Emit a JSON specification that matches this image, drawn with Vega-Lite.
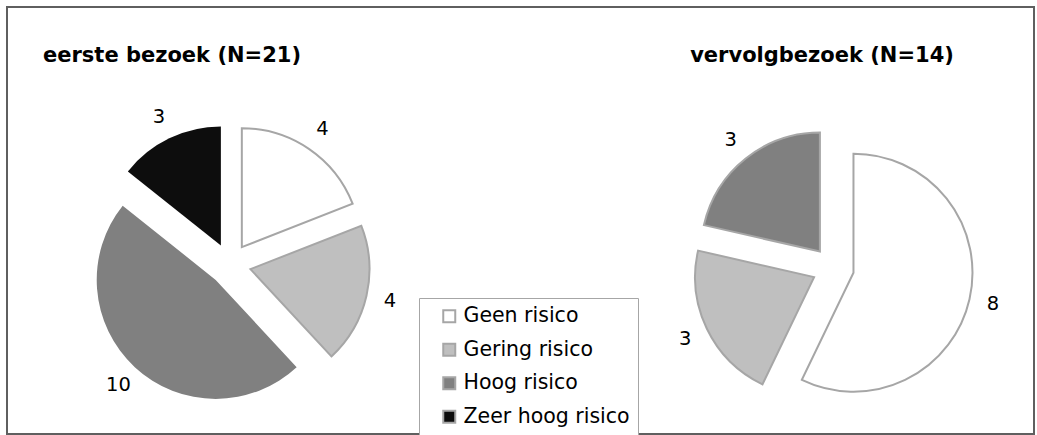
{
  "$schema": "https://vega.github.io/schema/vega-lite/v6.json",
  "width": 1027,
  "height": 427,
  "autosize": {"type": "none"},
  "padding": {"left": 7, "top": 7, "right": 3, "bottom": 1},
  "background": "#ffffff",
  "config": {
    "view": {"stroke": "#5f5f5f", "strokeWidth": 2},
    "font": "DejaVu Sans",
    "text": {"font": "DejaVu Sans"}
  },
  "layer": [
    {
      "data": {
        "values": [
          {"bezoek": "eerste", "risico": "Geen risico", "aantal": 4},
          {"bezoek": "eerste", "risico": "Gering risico", "aantal": 4},
          {"bezoek": "eerste", "risico": "Hoog risico", "aantal": 10},
          {"bezoek": "eerste", "risico": "Zeer hoog risico", "aantal": 3},
          {"bezoek": "vervolg", "risico": "Geen risico", "aantal": 8},
          {"bezoek": "vervolg", "risico": "Gering risico", "aantal": 3},
          {"bezoek": "vervolg", "risico": "Hoog risico", "aantal": 3},
          {"bezoek": "vervolg", "risico": "Zeer hoog risico", "aantal": 0}
        ]
      },
      "transform": [
        {"joinaggregate": [{"op": "sum", "field": "aantal", "as": "totaal"}], "groupby": ["bezoek"]},
        {"window": [{"op": "sum", "field": "aantal", "as": "cum"}], "groupby": ["bezoek"], "sort": [{"field": "risico", "order": "ascending"}], "frame": [null, 0]},
        {"filter": "datum.aantal > 0"},
        {"calculate": "(datum.cum - datum.aantal) / datum.totaal", "as": "begin"},
        {"calculate": "datum.cum / datum.totaal", "as": "eind"},
        {"calculate": "(datum.begin + datum.eind) / 2", "as": "midden"},
        {"calculate": "sin(2 * PI * datum.midden)", "as": "dx"},
        {"calculate": "-cos(2 * PI * datum.midden)", "as": "dy"}
      ],
      "layer": [
        {
          "mark": {"type": "arc", "radius": 119, "strokeWidth": 2, "strokeJoin": "miter"},
          "encoding": {
            "x": {"field": "bezoek", "type": "nominal", "scale": {"type": "point", "range": [223, 826], "padding": 0}, "axis": null},
            "y": {"field": "bezoek", "type": "nominal", "scale": {"type": "point", "range": [257.5, 261], "padding": 0}, "axis": null},
            "xOffset": {"field": "dx", "type": "quantitative", "scale": {"domain": [-1, 1], "range": [-21, 21]}},
            "yOffset": {"field": "dy", "type": "quantitative", "scale": {"domain": [-1, 1], "range": [-21, 21]}},
            "theta": {"field": "begin", "type": "quantitative", "stack": null, "scale": {"domain": [0, 1], "range": [0, 6.283185307179586]}},
            "theta2": {"field": "eind"},
            "color": {
              "field": "risico",
              "type": "nominal",
              "scale": {
                "domain": ["Geen risico", "Gering risico", "Hoog risico", "Zeer hoog risico"],
                "range": ["#ffffff", "#bfbfbf", "#808080", "#0d0d0d"]
              },
              "legend": {
                "orient": "none",
                "legendX": 412,
                "legendY": 291,
                "title": null,
                "strokeColor": "#a6a6a6",
                "fillColor": "#ffffff",
                "symbolType": "square",
                "symbolSize": 144,
                "symbolStrokeWidth": 2,
                "symbolOffset": 12,
                "labelOffset": 4,
                "labelFontSize": 20.5,
                "labelFont": "DejaVu Sans",
                "labelColor": "#000000",
                "labelLimit": 400,
                "labelExpr": "datum.label + '\u00a0\u00a0'",
                "rowPadding": 12.5,
                "padding": 8,
                "encode": {
                  "legend": {"update": {"strokeWidth": {"value": 2}}},
                  "symbols": {"update": {"stroke": {"signal": "datum.value == 'Zeer hoog risico' ? '#0d0d0d' : datum.value == 'Hoog risico' ? '#808080' : '#a6a6a6'"}, "strokeWidth": {"value": 2}}}
                }
              }
            },
            "stroke": {
              "condition": {"test": "datum.risico == 'Zeer hoog risico' || (datum.bezoek == 'eerste' && datum.risico == 'Hoog risico')", "value": "transparent"},
              "value": "#a6a6a6"
            }
          }
        },
        {
          "mark": {"type": "text", "radius": 143, "fontSize": 19.5, "color": "#000000"},
          "encoding": {
            "x": {"field": "bezoek", "type": "nominal", "scale": {"type": "point", "range": [223, 826], "padding": 0}, "axis": null},
            "y": {"field": "bezoek", "type": "nominal", "scale": {"type": "point", "range": [257.5, 261], "padding": 0}, "axis": null},
            "xOffset": {"field": "dx", "type": "quantitative", "scale": {"domain": [-1, 1], "range": [-21, 21]}},
            "yOffset": {"field": "dy", "type": "quantitative", "scale": {"domain": [-1, 1], "range": [-21, 21]}},
            "theta": {"field": "midden", "type": "quantitative", "stack": null, "scale": {"domain": [0, 1], "range": [0, 6.283185307179586]}},
            "text": {"field": "aantal", "type": "quantitative"}
          }
        }
      ]
    },
    {
      "data": {
        "values": [
          {"bezoek": "eerste", "titel": "eerste bezoek (N=21)"},
          {"bezoek": "vervolg", "titel": "vervolgbezoek (N=14)"}
        ]
      },
      "mark": {"type": "text", "fontSize": 21, "fontWeight": "bold", "baseline": "alphabetic", "color": "#000000"},
      "encoding": {
        "x": {"field": "bezoek", "type": "nominal", "scale": {"type": "point", "range": [165, 815], "padding": 0}, "axis": null},
        "y": {"field": "bezoek", "type": "nominal", "scale": {"type": "point", "range": [55, 55], "padding": 0}, "axis": null},
        "text": {"field": "titel"}
      }
    }
  ],
  "resolve": {"scale": {"x": "independent", "y": "independent"}}
}
